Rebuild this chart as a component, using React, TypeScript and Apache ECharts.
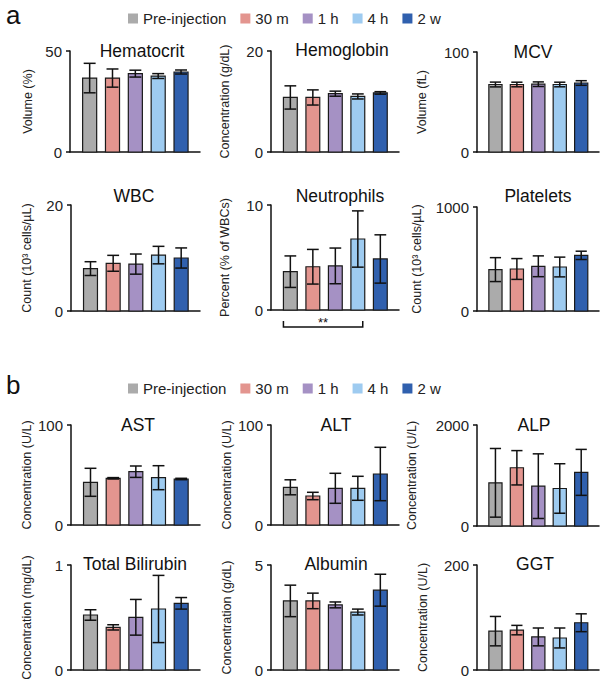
import React, { useEffect, useRef } from "react";
import * as echarts from "echarts";

const groups = ["Pre-injection", "30 m", "1 h", "4 h", "2 w"];
const colors = ["#ababab", "#e3958f", "#a591c4", "#9ecbf0", "#3060ae"];

const panelTitles = ["Hematocrit", "Hemoglobin", "MCV", "WBC", "Neutrophils", "Platelets", "AST", "ALT", "ALP", "Total Bilirubin", "Albumin", "GGT"];
const yNames = [
  "Volume (%)", "Concentration (g/dL)", "Volume (fL)",
  "Count (10³ cells/µL)", "Percent (% of WBCs)", "Count (10³ cells/µL)",
  "Concentration (U/L)", "Concentration (U/L)", "Concentration (U/L)",
  "Concentration (mg/dL)", "Concentration (g/dL)", "Concentration (U/L)",
];
const yMax = [50, 20, 100, 20, 10, 1000, 100, 100, 2000, 1, 5, 200];

const hematocritMean = [36.6, 36.6, 38.8, 37.6, 39.6];
const hematocritSd = [7.3, 4.5, 1.7, 1.2, 1.0];
const hemoglobinMean = [10.8, 10.8, 11.55, 11.0, 11.7];
const hemoglobinSd = [2.3, 1.5, 0.5, 0.5, 0.25];
const mcvMean = [67.5, 67.5, 67.8, 67.5, 69.0];
const mcvSd = [2.4, 2.3, 2.3, 2.3, 2.3];
const wbcMean = [8.0, 9.0, 8.85, 10.55, 10.0];
const wbcSd = [1.3, 1.5, 1.9, 1.65, 1.9];
const neutrophilsMean = [3.65, 4.12, 4.2, 6.76, 4.86];
const neutrophilsSd = [1.5, 1.65, 1.7, 2.68, 2.3];
const plateletsMean = [398, 404, 430, 423, 535];
const plateletsSd = [115, 100, 100, 95, 40];
const astMean = [42.7, 46.7, 53.3, 47.3, 46.0];
const astSd = [14, 0.7, 5.7, 12, 0.7];
const altMean = [37.7, 29.0, 36.7, 36.7, 51.0];
const altSd = [7.5, 3.7, 15, 12, 26.7];
const alpMean = [855, 1153, 789, 743, 1062];
const alpSd = [680, 340, 640, 490, 455];
const bilirubinMean = [0.524, 0.406, 0.502, 0.581, 0.635];
const bilirubinSd = [0.05, 0.025, 0.17, 0.32, 0.055];
const albuminMean = [3.29, 3.29, 3.1, 2.76, 3.8];
const albuminSd = [0.75, 0.37, 0.14, 0.14, 0.76];
const ggtMean = [74, 76, 63, 61, 90];
const ggtSd = [28, 9, 17, 19, 17];

const means = [hematocritMean, hemoglobinMean, mcvMean, wbcMean, neutrophilsMean, plateletsMean, astMean, altMean, alpMean, bilirubinMean, albuminMean, ggtMean];
const sds = [hematocritSd, hemoglobinSd, mcvSd, wbcSd, neutrophilsSd, plateletsSd, astSd, altSd, alpSd, bilirubinSd, albuminSd, ggtSd];

// significance bracket in Neutrophils panel
const neutrophilSig = { panel: 4, from: 0, to: 3, label: "**" };

const layout = [
  { left: 70, top: 51, bottom: 152, right: 200, gap: 36, tx: 142, ty: 51 },
  { left: 271, top: 51, bottom: 152, right: 399, gap: 40, tx: 342, ty: 50 },
  { left: 477, top: 52, bottom: 152, right: 599, gap: 49, tx: 533, ty: 52 },
  { left: 71, top: 205, bottom: 311, right: 200, gap: 38, tx: 134, ty: 196 },
  { left: 271, top: 205, bottom: 310, right: 399, gap: 40, tx: 340, ty: 196 },
  { left: 477, top: 207, bottom: 311, right: 599, gap: 54, tx: 538, ty: 196 },
  { left: 71, top: 425, bottom: 525, right: 200, gap: 38, tx: 138, ty: 425 },
  { left: 271, top: 425, bottom: 525, right: 399, gap: 38, tx: 336, ty: 425 },
  { left: 477, top: 425, bottom: 526, right: 599, gap: 59, tx: 534, ty: 425 },
  { left: 71, top: 565, bottom: 670, right: 200, gap: 38, tx: 135, ty: 564 },
  { left: 271, top: 565, bottom: 670, right: 399, gap: 38, tx: 336, ty: 564 },
  { left: 477, top: 565, bottom: 670, right: 599, gap: 48, tx: 535, ty: 564 },
];

const FONT = "'Liberation Sans', Arial, Helvetica, sans-serif";
const BAR_W = 0.615;

export default function App() {
  const ref = useRef<HTMLDivElement>(null);
  useEffect(() => {
    if (!ref.current) return;
    const chart = echarts.init(ref.current, null, { renderer: "svg" });

    const grids: any[] = [];
    const xAxes: any[] = [];
    const yAxes: any[] = [];
    const series: any[] = [];
    const graphics: any[] = [];

    panelTitles.forEach((title, p) => {
      const L = layout[p];
      grids.push({ left: L.left, top: L.top, width: L.right - L.left, height: L.bottom - L.top, containLabel: false });
      xAxes.push({
        gridIndex: p, type: "value", min: -0.86, max: 4.83,
        axisLine: { show: true, onZero: false, lineStyle: { color: "#111", width: 1.5 } },
        axisTick: { show: false }, axisLabel: { show: false }, splitLine: { show: false },
      });
      yAxes.push({
        gridIndex: p, type: "value", min: 0, max: yMax[p], interval: yMax[p],
        name: yNames[p], nameLocation: "middle", nameGap: L.gap,
        nameTextStyle: { fontSize: 12.5, color: "#222", fontFamily: FONT },
        axisLine: { show: true, onZero: false, lineStyle: { color: "#111", width: 1.5 } },
        axisTick: { show: true, length: 4, lineStyle: { color: "#111", width: 1.5 } },
        axisLabel: { fontSize: 15, color: "#222", fontFamily: FONT, margin: 8, formatter: (v: number) => String(v) },
        splitLine: { show: false },
      });
      series.push({
        type: "custom", xAxisIndex: p, yAxisIndex: p, clip: false,
        data: means[p].map((m, j) => [j, m, sds[p][j]]),
        renderItem: (params: any, api: any) => {
          const j = api.value(0), m = api.value(1), s = api.value(2);
          const top = api.coord([j, m]);
          const base = api.coord([j, 0]);
          const hi = api.coord([j, m + s]);
          const lo = api.coord([j, Math.max(0, m - s)]);
          const w = api.size([BAR_W, 0])[0];
          const cw = w * 0.85;
          return {
            type: "group",
            children: [
              { type: "rect", shape: { x: top[0] - w / 2, y: top[1], width: w, height: base[1] - top[1] }, style: { fill: colors[j], stroke: "#1a1a1a", lineWidth: 1.2 } },
              { type: "line", shape: { x1: hi[0], y1: hi[1], x2: lo[0], y2: lo[1] }, style: { stroke: "#111", lineWidth: 1.5 } },
              { type: "line", shape: { x1: hi[0] - cw / 2, y1: hi[1], x2: hi[0] + cw / 2, y2: hi[1] }, style: { stroke: "#111", lineWidth: 1.5 } },
              { type: "line", shape: { x1: lo[0] - cw / 2, y1: lo[1], x2: lo[0] + cw / 2, y2: lo[1] }, style: { stroke: "#111", lineWidth: 1.5 } },
            ],
          };
        },
      });
      graphics.push({
        type: "text", x: L.tx, y: L.ty,
        style: { text: title, fontSize: 17.5, fill: "#111", fontFamily: FONT, align: "center", verticalAlign: "middle" },
      });
    });

    // significance bracket
    series.push({
      type: "custom", xAxisIndex: neutrophilSig.panel, yAxisIndex: neutrophilSig.panel, clip: false,
      data: [[neutrophilSig.from, neutrophilSig.to]],
      renderItem: (params: any, api: any) => {
        const a = api.coord([api.value(0), 0]);
        const b = api.coord([api.value(1), 0]);
        const w = api.size([BAR_W, 0])[0];
        const x1 = a[0] - w / 2, x2 = b[0] + w / 2 - 2;
        const y = a[1] + 17;
        return {
          type: "group",
          children: [
            { type: "polyline", shape: { points: [[x1, y - 6], [x1, y], [x2, y], [x2, y - 6]] }, style: { stroke: "#111", lineWidth: 1.5, fill: null } },
            { type: "text", x: (x1 + x2) / 2, y: y - 5, style: { text: neutrophilSig.label, fontSize: 13, fill: "#111", fontFamily: FONT, align: "center", verticalAlign: "middle" } },
          ],
        };
      },
    });

    // legend dummy series
    groups.forEach((g, j) => {
      series.push({ type: "bar", name: g, xAxisIndex: 0, yAxisIndex: 0, data: [], itemStyle: { color: colors[j] } });
    });

    graphics.push({ type: "text", x: 6, y: 15, style: { text: "a", fontSize: 26, fill: "#111", fontFamily: FONT, verticalAlign: "middle" } });
    graphics.push({ type: "text", x: 6, y: 385, style: { text: "b", fontSize: 26, fill: "#111", fontFamily: FONT, verticalAlign: "middle" } });

    const legendBase = {
      data: groups, left: 123, orient: "horizontal", icon: "rect",
      itemWidth: 10, itemHeight: 10, itemGap: 14, selectedMode: false,
      textStyle: { fontSize: 15, color: "#222", fontFamily: FONT },
    };

    chart.setOption({
      animation: false,
      backgroundColor: "#ffffff",
      legend: [{ ...legendBase, top: 6 }, { ...legendBase, top: 376 }],
      grid: grids,
      xAxis: xAxes,
      yAxis: yAxes,
      series,
      graphic: graphics,
    });
    return () => chart.dispose();
  }, []);

  return <div ref={ref} style={{ position: "fixed", left: 0, top: 0, width: 610, height: 683, background: "#fff" }} />;
}
